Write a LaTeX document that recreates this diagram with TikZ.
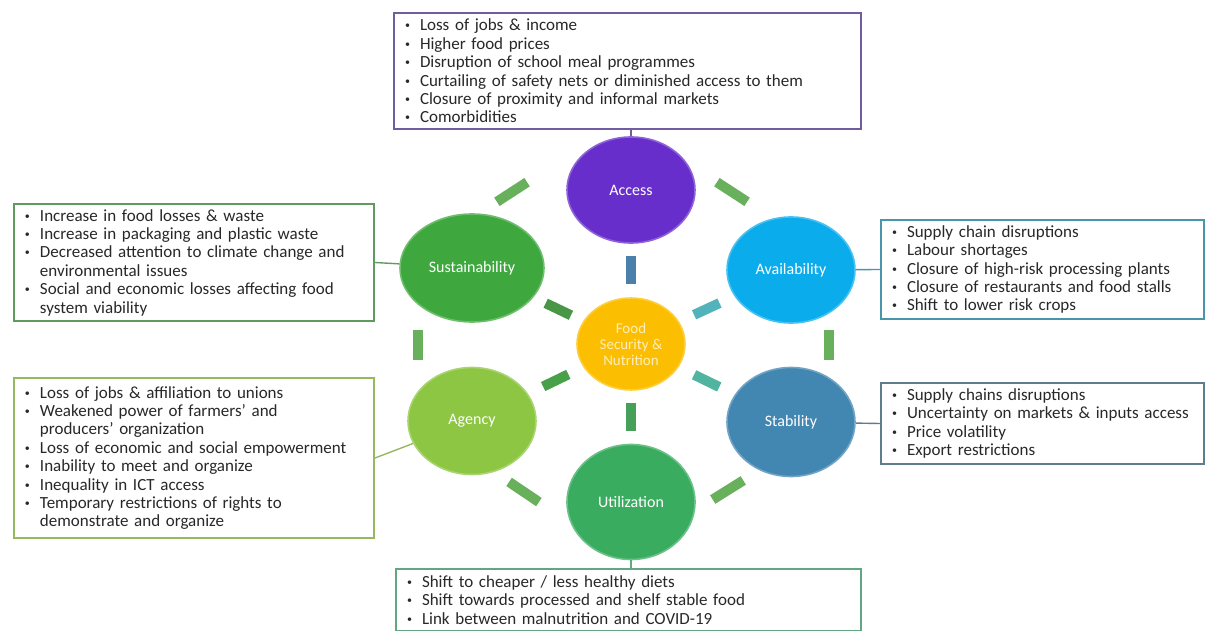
\documentclass[tikz,border=0pt]{standalone}
\usepackage{fontspec}
\setmainfont{Carlito}
\usetikzlibrary{positioning, shapes.geometric, calc}
\usepackage{xcolor}

\definecolor{accF}{RGB}{104,46,204}
\definecolor{susF}{RGB}{62,168,62}
\definecolor{avaF}{RGB}{10,172,236}
\definecolor{fsnF}{RGB}{252,190,0}
\definecolor{fsnT}{RGB}{255,238,190}
\definecolor{agnF}{RGB}{140,198,66}
\definecolor{staF}{RGB}{66,134,178}
\definecolor{utiF}{RGB}{58,172,96}
\definecolor{accB}{RGB}{112,92,160}
\definecolor{susB}{RGB}{95,155,95}
\definecolor{avaB}{RGB}{72,150,170}
\definecolor{agnB}{RGB}{150,185,95}
\definecolor{staB}{RGB}{95,125,145}
\definecolor{utiB}{RGB}{100,165,130}
\definecolor{barG}{RGB}{104,176,92}
\definecolor{spA}{RGB}{74,128,170}
\definecolor{spS}{RGB}{72,150,70}
\definecolor{spV}{RGB}{82,180,186}
\definecolor{spG}{RGB}{72,160,72}
\definecolor{spT}{RGB}{80,180,160}
\definecolor{spU}{RGB}{70,160,90}
\definecolor{txtD}{RGB}{40,40,40}

\newcommand{\itm}[1]{\hangindent=7.5pt\hangafter=1\noindent
  \makebox[7.5pt][l]{\raisebox{0.25ex}{\fontsize{5}{5}\selectfont\textbullet}}#1\par}

\begin{document}
\begin{tikzpicture}[x=0.5pt, y=-0.5pt,
  dim/.style={ellipse, fill=#1, draw=#1!75!white, line width=0.8pt, inner sep=0pt,
    text=white, align=center, font=\fontsize{8}{9}\selectfont},
  ibox/.style={draw=#1, line width=1pt, fill=white, rectangle, anchor=north west,
    inner sep=0pt, inner xsep=5.5pt, align=left, text=txtD,
    font=\fontsize{8.5}{9.2}\selectfont},
  link/.style={draw=#1, line width=0.7pt},
  ringbar/.style={rectangle, fill=barG, minimum width=18pt, minimum height=5pt, inner sep=0pt},
  spoke/.style={rectangle, fill=#1, minimum width=14pt, minimum height=5pt, inner sep=0pt, sloped}]

\useasboundingbox (0,0) rectangle (1207,631); % 1207 x 631

% dimensions
\node[dim=accF, minimum width=64pt, minimum height=53pt] (acc) at (631,190) {Access};
\node[dim=susF, minimum width=72pt, minimum height=54pt] (sus) at (472,268) {Sustainability};
\node[dim=avaF, minimum width=64pt, minimum height=53pt] (ava) at (791,270) {Availability};
\node[dim=fsnF, minimum width=54pt, minimum height=46pt, text=fsnT,
  font=\fontsize{7.5}{8}\selectfont] (fsn) at (631,344) {Food\\Security \&\\Nutrition};
\node[dim=agnF, minimum width=64pt, minimum height=53.5pt] (agn) at (472,421) {Agency};
\node[dim=staF, minimum width=64pt, minimum height=54.5pt] (sta) at (791,422) {Stability};
\node[dim=utiF, minimum width=64pt, minimum height=57.5pt] (uti) at (631,502) {Utilization};

% spokes
\path (acc) -- (fsn) node[spoke=spA, midway] (sp1) {};
\path (sus) -- (fsn) node[spoke=spS, midway] (sp2) {};
\path (fsn) -- (ava) node[spoke=spV, midway] (sp3) {};
\path (agn) -- (fsn) node[spoke=spG, midway] (sp4) {};
\path (fsn) -- (sta) node[spoke=spT, midway] (sp5) {};
\path (fsn) -- (uti) node[spoke=spU, midway] (sp6) {};

% outer ring
\node[ringbar, rotate=33] (rb1) at (512,192) {};
\node[ringbar, rotate=-33] (rb2) at (732,192) {};
\node[ringbar, rotate=90, minimum width=15pt] (rb3) at (418,345) {};
\node[ringbar, rotate=90, minimum width=15pt] (rb4) at (829,345) {};
\node[ringbar, rotate=-34] (rb5) at (524,492) {};
\node[ringbar, rotate=32] (rb6) at (728,490) {};

% text boxes
\node[ibox=accB, minimum width=233.5pt, minimum height=58pt, text width=222.5pt] (accbox) at (393,12) {%
\itm{Loss of jobs \& income}
\itm{Higher food prices}
\itm{Disruption of school meal programmes}
\itm{Curtailing of safety nets or diminished access to them}
\itm{Closure of proximity and informal markets}
\itm{Comorbidities}};
\node[ibox=susB, minimum width=180pt, minimum height=58.5pt, text width=169pt] (susbox) at (13,203) {%
\itm{Increase in food losses \& waste}
\itm{Increase in packaging and plastic waste}
\itm{Decreased attention to climate change and\newline environmental issues}
\itm{Social and economic losses affecting food\newline system viability}};
\node[ibox=avaB, minimum width=161.5pt, minimum height=49.5pt, text width=150.5pt] (avabox) at (880,219) {%
\itm{Supply chain disruptions}
\itm{Labour shortages}
\itm{Closure of high-risk processing plants}
\itm{Closure of restaurants and food stalls}
\itm{Shift to lower risk crops}};
\node[ibox=agnB, minimum width=180pt, minimum height=80pt, text width=169pt] (agnbox) at (13,377) {%
\itm{Loss of jobs \& affiliation to unions}
\itm{Weakened power of farmers' and\newline producers' organization}
\itm{Loss of economic and social empowerment}
\itm{Inability to meet and organize}
\itm{Inequality in ICT access}
\itm{Temporary restrictions of rights to\newline demonstrate and organize}};
\node[ibox=staB, minimum width=161.5pt, minimum height=40.5pt, text width=150.5pt] (stabox) at (880,382) {%
\itm{Supply chains disruptions}
\itm{Uncertainty on markets \& inputs access}
\itm{Price volatility}
\itm{Export restrictions}};
\node[ibox=utiB, minimum width=232.5pt, minimum height=31pt, text width=221.5pt] (utibox) at (395,568) {%
\itm{Shift to cheaper / less healthy diets}
\itm{Shift towards processed and shelf stable food}
\itm{Link between malnutrition and COVID-19}};

% box links
\draw[link=accB] (acc.north) -- (acc.north |- accbox.south);
\draw[link=susB] (susbox.east) -- (sus);
\draw[link=avaB] (ava) -- (avabox.west);
\draw[link=agnB] (agnbox.east) -- (agn);
\draw[link=staB] (sta) -- (stabox.west);
\draw[link=utiB] (uti.south) -- (uti.south |- utibox.north);

\end{tikzpicture}
\end{document}
